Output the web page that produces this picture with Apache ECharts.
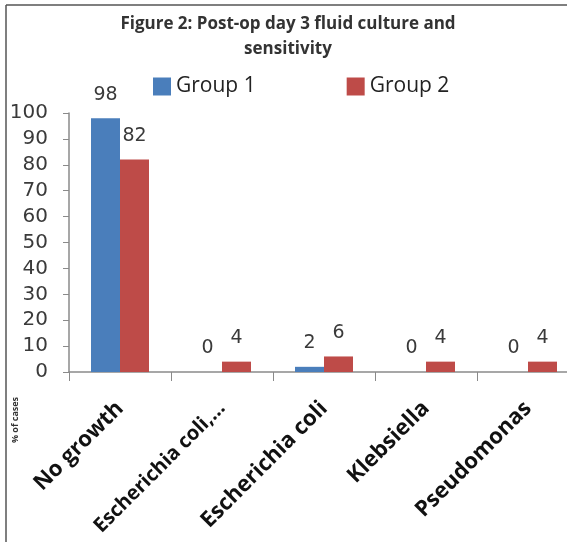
<!DOCTYPE html>
<html>
<head>
<meta charset="utf-8">
<script src="https://cdn.jsdelivr.net/npm/echarts@6/dist/echarts.min.js"></script>
<style>
  html, body { margin: 0; padding: 0; background: #fff; overflow: hidden; }
  #chart { width: 590px; height: 542px; }
</style>
</head>
<body>
<div id="chart"></div>
<script>
// Post-op day 3 fluid culture results, % of cases per group
const categories = ['No growth', 'Escherichia coli,…', 'Escherichia coli', 'Klebsiella', 'Pseudomonas'];
const group1 = [98, 0, 2, 0, 0];
const group2 = [82, 4, 6, 4, 4];
const seriesNames = ['Group 1', 'Group 2'];
const yTicks = { min: 0, max: 100, step: 10 };

// The truncated long name is set a little tighter so it stays on the page
const categoryData = categories.map(function (name) {
  return name.indexOf('…') >= 0
    ? { value: name, textStyle: { fontSize: 20 } }
    : name;
});

const chart = echarts.init(document.getElementById('chart'));
const labelStyle = {
  show: true,
  position: 'top',
  distance: 14,
  fontFamily: 'DejaVu Sans',
  fontSize: 19,
  color: '#3a3a3a'
};

chart.setOption({
  animation: false,
  backgroundColor: '#fff',
  title: {
    text: 'Figure 2: Post-op day 3 fluid culture and\nsensitivity',
    left: 283,
    textAlign: 'center',
    top: 7,
    textStyle: {
      fontFamily: 'Open Sans',
      fontWeight: 'bold',
      fontSize: 17,
      lineHeight: 25,
      color: '#333'
    }
  },
  legend: {
    left: 148,
    top: 71,
    itemWidth: 18,
    itemHeight: 18,
    itemGap: 91,
    icon: 'rect',
    textStyle: { fontFamily: 'Open Sans', fontSize: 21, color: '#222' },
    data: seriesNames
  },
  grid: { left: 69, right: 11, top: 113, bottom: 170, outerBoundsMode: 'none', containLabel: false },
  xAxis: {
    type: 'category',
    data: categoryData,
    axisLine: { lineStyle: { color: '#8a8a8a', width: 1.5 } },
    axisTick: { show: true, length: 9, lineStyle: { color: '#8a8a8a' } },
    axisLabel: {
      rotate: 45,
      margin: 33,
      interval: 0,
      fontFamily: 'Open Sans',
      fontWeight: 'bold',
      fontSize: 22,
      color: '#111'
    }
  },
  yAxis: {
    type: 'value',
    min: yTicks.min,
    max: yTicks.max,
    interval: yTicks.step,
    axisLine: { show: true, lineStyle: { color: '#8a8a8a', width: 1.5 } },
    axisTick: { show: true, length: 6, lineStyle: { color: '#8a8a8a' } },
    splitLine: { show: false },
    axisLabel: {
      margin: 21,
      fontFamily: 'DejaVu Sans',
      fontSize: 20,
      color: '#3a3a3a'
    }
  },
  graphic: [
    { type: 'line', shape: { x1: 6, y1: 5, x2: 600, y2: 5 }, style: { stroke: '#555', lineWidth: 1.5 } },
    { type: 'line', shape: { x1: 6, y1: 5, x2: 6, y2: 600 }, style: { stroke: '#555', lineWidth: 1.5 } },
    {
      type: 'text',
      x: 15,
      y: 420,
      rotation: Math.PI / 2,
      style: {
        text: '% of cases',
        fontFamily: 'Open Sans',
        fontWeight: 'bold',
        fontSize: 9,
        fill: '#333',
        align: 'center',
        verticalAlign: 'middle'
      }
    }
  ],
  series: [
    {
      name: seriesNames[0],
      type: 'bar',
      data: group1,
      barWidth: 29,
      barGap: '0%',
      itemStyle: { color: '#4A7EBB' },
      label: labelStyle
    },
    {
      name: seriesNames[1],
      type: 'bar',
      data: group2,
      barWidth: 29,
      itemStyle: { color: '#BE4B48' },
      label: labelStyle
    }
  ]
});
</script>
</body>
</html>
